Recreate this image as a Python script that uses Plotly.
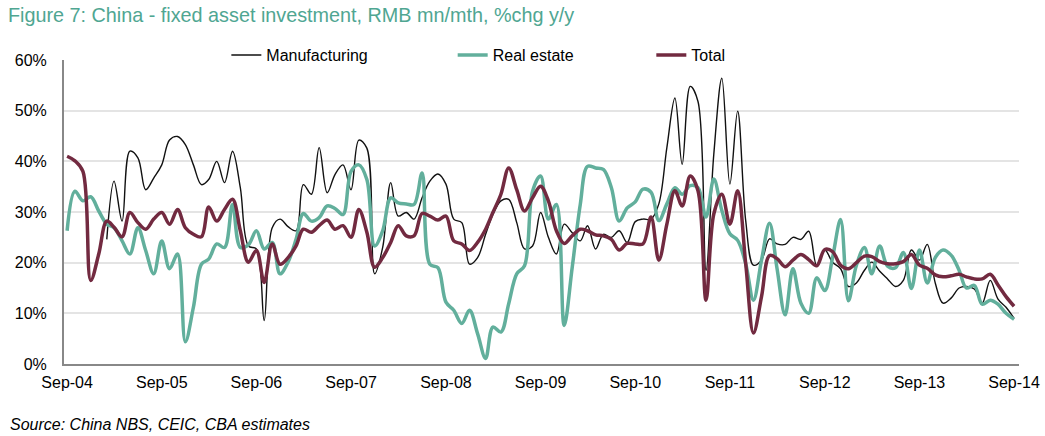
import plotly.graph_objects as go
import pandas as pd

# Monthly data, Sep-04 .. Sep-14 (% chg y/y)
months = pd.date_range("2004-09-01", "2014-09-01", freq="MS")

manufacturing = [
    None, None, None, None, None, 24.6, 36.1, 28.2, 42.0, 40.7, 34.4, 36.7,
    39.3, 44.2, 44.9, 43.3, 39.3, 35.4, 36.4, 40.0, 35.8, 42.0, 34.8, 23.3,
    22.7, 8.6, 26.9, 28.6, 27.1, 26.3, 35.4, 33.5, 42.7, 33.8, 37.4, 39.3,
    34.4, 44.2, 42.6, 17.8, 23.0, 35.8, 29.2, 29.9, 28.6, 32.8, 36.1, 37.5,
    35.5, 28.6, 27.9, 19.7, 21.0, 25.6, 29.5, 32.2, 32.5, 27.9, 22.7, 23.3,
    29.9, 25.0, 21.7, 27.6, 25.9, 24.3, 27.3, 22.7, 25.6, 25.0, 26.3, 24.0,
    28.1, 28.6, 28.6, 31.6, 42.7, 52.5, 39.4, 54.8, 51.8, 18.5, 41.4, 56.4,
    35.5, 49.9, 28.3, 19.5, 20.5, 24.7, 23.7, 23.6, 25.0, 24.6, 26.2, 19.4,
    22.5, 20.1, 18.8, 15.3, 16.0, 18.5, 20.1, 18.3, 16.8, 15.3, 16.5, 22.5,
    20.5, 23.6, 16.0, 12.0, 13.0, 15.0, 15.3, 14.8, 12.0, 16.5, 12.8, 11.2,
    9.0,
]

real_estate = [
    26.3, 34.1, 32.2, 33.0, 30.2, 27.6, 26.9, 24.3, 21.7, 26.9, 22.4, 17.8,
    24.3, 18.8, 21.7, 4.4, 11.2, 19.7, 20.7, 23.7, 23.0, 31.5, 23.0, 23.5,
    26.3, 22.7, 24.0, 17.8, 20.1, 24.6, 29.7, 28.2, 28.9, 31.2, 30.7, 29.5,
    38.0, 39.3, 36.4, 23.3, 26.3, 32.8, 31.8, 31.6, 31.5, 37.7, 19.7, 19.0,
    12.2, 10.6, 8.0, 10.6, 6.0, 1.1, 7.3, 6.3, 11.9, 17.8, 19.4, 34.1,
    37.1, 28.6, 31.5, 7.6, 19.1, 31.5, 39.0, 38.7, 38.4, 34.8, 28.2, 30.8,
    32.0, 34.5, 33.9, 28.3, 31.6, 34.8, 33.5, 35.2, 34.8, 29.0, 36.5, 30.3,
    25.7, 24.4, 19.8, 12.6, 20.5, 27.8, 18.8, 9.7, 18.8, 12.0, 10.0, 17.0,
    14.5, 21.0, 28.5, 12.5, 19.5, 23.0, 17.8, 23.3, 19.3, 19.0, 22.0, 14.9,
    22.5, 16.0, 21.0, 22.5, 21.5, 18.5, 15.0, 15.5, 11.8, 12.6, 11.8, 10.0,
    8.8,
]

total = [
    41.0, 40.1, 38.0, 16.5, 21.7, 28.2, 27.0, 25.1, 29.9, 27.9, 26.6, 28.6,
    29.9, 27.6, 30.5, 26.9, 25.6, 25.1, 31.0, 28.2, 30.5, 32.5, 26.3, 20.1,
    22.4, 16.1, 23.7, 19.7, 21.0, 23.3, 26.6, 26.0, 27.3, 28.4, 26.6, 27.3,
    25.0, 30.5, 26.0, 19.1, 21.0, 24.0, 27.3, 25.3, 25.3, 29.7, 29.2, 28.4,
    29.2, 24.3, 23.7, 22.4, 24.0, 26.6, 29.9, 33.5, 38.7, 34.4, 30.2, 32.8,
    35.1, 32.2, 26.3, 23.8, 25.3, 26.6, 26.3, 25.5, 25.3, 24.6, 22.5, 23.8,
    23.7, 23.7, 29.0, 20.5, 27.6, 34.2, 31.2, 37.1, 34.2, 12.6, 29.6, 33.5,
    27.6, 34.2, 19.8, 6.1, 13.3, 21.4, 20.8, 19.2, 20.5, 21.6, 20.6, 19.4,
    22.6, 22.2, 19.5, 18.8, 20.0, 21.3, 21.2, 20.2, 19.8, 19.8, 20.2, 21.6,
    19.5, 18.9, 17.6, 17.2, 17.4, 17.7, 17.2, 16.8, 16.8, 17.7, 15.6, 13.3,
    11.4,
]

tick_dates = pd.date_range("2004-09-01", "2014-09-01", freq="12MS")
tick_labels = ["Sep-04", "Sep-05", "Sep-06", "Sep-07", "Sep-08", "Sep-09",
               "Sep-10", "Sep-11", "Sep-12", "Sep-13", "Sep-14"]
y_ticks = [0, 10, 20, 30, 40, 50, 60]
y_labels = ["0%", "10%", "20%", "30%", "40%", "50%", "60%"]

FONT = "Liberation Sans, Arial, sans-serif"

fig = go.Figure()

fig.add_trace(go.Scatter(
    x=months, y=manufacturing, name="Manufacturing", mode="lines",
    line=dict(color="#111111", width=1.4, shape="spline", smoothing=1),
    showlegend=True, legend="legend"
))
fig.add_trace(go.Scatter(
    x=months, y=real_estate, name="Real estate", mode="lines",
    line=dict(color="#62AF9C", width=3.5, shape="spline", smoothing=1),
    showlegend=True, legend="legend2"
))
fig.add_trace(go.Scatter(
    x=months, y=total, name="Total", mode="lines",
    line=dict(color="#722A40", width=3.5, shape="spline", smoothing=1),
    showlegend=True, legend="legend3"
))

leg = dict(orientation="h", yanchor="middle", y=1.016, xanchor="left",
           bgcolor="rgba(0,0,0,0)", font=dict(family=FONT, size=16, color="#000"))

fig.update_layout(
    width=1045, height=436,
    margin=dict(l=64, r=26, t=60, b=72),
    paper_bgcolor="white", plot_bgcolor="white",
    showlegend=True,
    title=dict(
        text="Figure 7: China - fixed asset investment, RMB mn/mth, %chg y/y",
        font=dict(family=FONT, size=19.8, color="#4FA692"),
        xref="container", x=8 / 1045, xanchor="left",
        yref="container", y=1 - 15 / 436, yanchor="middle"
    ),
    legend=dict(leg, x=0.170),
    legend2=dict(leg, x=0.407),
    legend3=dict(leg, x=0.615),
    xaxis=dict(
        range=["2004-08-20", "2014-09-20"],
        tickvals=tick_dates, ticktext=tick_labels,
        showgrid=False, showline=True, linecolor="#888888", linewidth=2,
        ticks="", ticklabelstandoff=3, automargin=False,
        tickfont=dict(family=FONT, size=16, color="#000")
    ),
    yaxis=dict(
        range=[0, 60], tickvals=y_ticks, ticktext=y_labels,
        showgrid=True, gridcolor="#e4e4e4", gridwidth=1.5,
        showline=True, linecolor="#888888", linewidth=2,
        zeroline=False, ticks="", ticklabelstandoff=12, automargin=False,
        tickfont=dict(family=FONT, size=16, color="#000")
    ),
    annotations=[dict(
        text="<i>Source: China NBS, CEIC, CBA estimates</i>",
        xref="paper", yref="paper", x=(8 - 64) / 955, y=(364 - 424) / 304,
        xanchor="left", yanchor="middle", showarrow=False,
        font=dict(family=FONT, size=16, color="#000")
    )],
)

fig.write_html("out.html", config={"displayModeBar": False},
               post_script="document.body.style.margin='0';")
